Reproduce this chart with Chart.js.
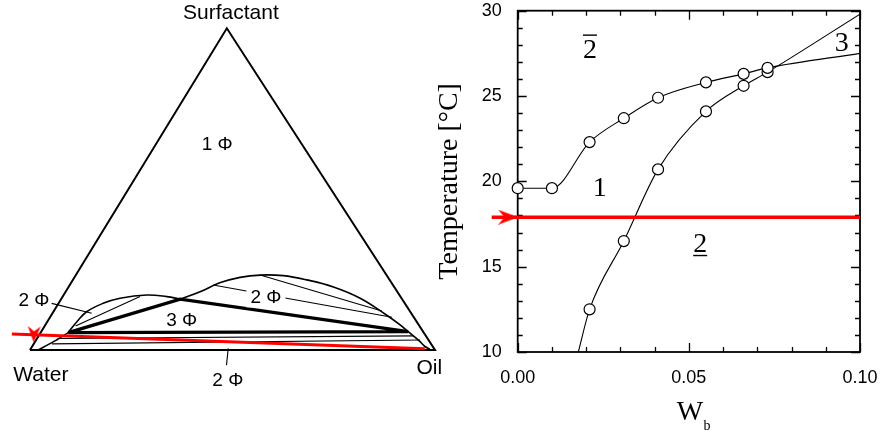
<!DOCTYPE html>
<html>
<head>
<meta charset="utf-8">
<script src="https://cdn.jsdelivr.net/npm/chart.js@4.4.0/dist/chart.umd.min.js"></script>
<style>
  html, body { margin: 0; padding: 0; background: #fff; }
  body { width: 881px; height: 435px; position: relative; overflow: hidden; }
  #ternaryBox { position: absolute; left: 0; top: 0; width: 450px; height: 435px; }
  #phaseBox { position: absolute; left: 430px; top: 0; width: 451px; height: 435px; }
  canvas { display: block; }
</style>
</head>
<body>
<div id="ternaryBox"><canvas id="ternary" width="450" height="435"></canvas></div>
<div id="phaseBox"><canvas id="phase" width="451" height="435"></canvas></div>
<script>
// ---------- ternary phase diagram (wt%: [oil, surfactant], water is the balance) ----------
const cornerLabels = ['Water', 'Oil', 'Surfactant'];
const cornerLabelAt = [[7.3, -9.5], [102.3, -7.6], [-0.4, 102.9]];
const triangleEdges = [[0, 0], [100, 0], [0, 100], [0, 0]];
const threePhaseCorners = [[6.8, 5.4], [29.4, 15.8], [90.6, 5.7], [6.8, 5.4]];
const leftBinodal = [[6.8, 5.4], [7.3, 8.8], [8.2, 11.9], [11.0, 14.5], [14.4, 16.1], [20.5, 17.1], [25.7, 16.6], [29.4, 15.8]];
const rightBinodal = [[29.4, 15.8], [33.2, 18.1], [36.7, 20.9], [40.9, 22.6], [45.5, 23.3], [51.3, 23.1], [57.7, 21.8],
                      [65.4, 19.6], [73.7, 16.1], [82.2, 11.2], [87.6, 7.8], [90.6, 5.7], [94.4, 3.1], [97.0, 1.1], [98.6, 0.3]];
const lowerBinodal = [[2.0, 0], [4.5, 2.5], [6.8, 5.4]];
const tieLines = [
  [[7.6, 7.5], [19.1, 16.6]],
  [[45.5, 23.3], [81.0, 12.1]],
  [[35.4, 20.2], [84.4, 10.2]],
  [[5.5, 3.6], [92.5, 4.4]],
  [[4.5, 1.9], [94.8, 3.1]]
];
const leaderLines = [[[-1.7, 14.5], [9.7, 11.4]], [[48.7, 0.5], [50.8, -4.7]]];
const phaseLabels = ['1 Φ', '2 Φ', '3 Φ', '2 Φ', '2 Φ'];
const phaseLabelAt = [[16.0, 62.2], [-5.7, 13.7], [33.8, 7.5], [51.2, 14.5], [54.3, -11.2]];
const phaseLabelMasked = [false, false, false, true, false];
const dilutionPath = [[-6.9, 5.0], [97.3, 0.4]];
const dilutionArrowAt = [-1.4, 4.9];

// ---------- temperature / W_b phase boundaries ----------
const wbUpper = [0.000, 0.010, 0.021, 0.031, 0.041, 0.055, 0.066, 0.073];
const tUpper  = [19.6, 19.6, 22.3, 23.7, 24.9, 25.8, 26.3, 26.65];
const wbLower = [0.021, 0.031, 0.041, 0.055, 0.066, 0.073];
const tLower  = [12.5, 16.5, 20.7, 24.1, 25.6, 26.4];
const upperBranchEnd = [0.100, 27.5];
const lowerBranchStart = [0.0177, 10.0];
const lowerBranchEnd = [0.100, 29.8];
const pathTemperature = 17.9;
const pathStartWb = -0.0076;
const pathArrowWb = -0.0028;
const regionLabels = ['2', '1', '2', '3'];
const regionMarks = ['over', '', 'under', ''];
const regionLabelAt = [[0.0211, 27.66], [0.024, 19.55], [0.0533, 16.28], [0.0947, 28.09]];
const tempTitle = 'Temperature [°C]';
const wbTitle = ['W', 'b'];

// ---------- helpers ----------
const SKEW = 0.486;                       // horizontal offset of the surfactant apex
const toXY = ([o, s]) => ({ x: o + SKEW * s, y: s });
const RED = '#ff0000';
const SANS = '"Liberation Sans", Arial, sans-serif';
const SERIF = '"Liberation Serif", "Times New Roman", serif';

function dart(w, h, color) {
  const c = document.createElement('canvas');
  c.width = w; c.height = h;
  const g = c.getContext('2d');
  g.fillStyle = color;
  g.beginPath();
  g.moveTo(w, h / 2); g.lineTo(0, 0); g.lineTo(w * 0.32, h / 2); g.lineTo(0, h);
  g.closePath(); g.fill();
  return c;
}

function pathSet(points, width, extra) {
  return Object.assign({
    data: points.map(toXY), showLine: true, borderColor: '#000', borderWidth: width,
    pointRadius: 0, tension: 0, fill: false, clip: false, borderJoinStyle: 'miter', borderCapStyle: 'butt'
  }, extra || {});
}

// ---------- ternary chart ----------
const ternaryDatasets = [
  pathSet(dilutionPath, 3, { borderColor: RED, order: 0 }),
  { data: [toXY(dilutionArrowAt)], showLine: false, pointStyle: dart(16, 13, RED), pointRadius: 8,
    rotation: 92, clip: false, order: 0 },
  pathSet(triangleEdges, 2, { order: 5 }),
  pathSet(threePhaseCorners, 3.4, { order: 2 }),
  pathSet(leftBinodal, 1.6, { tension: 0.4, order: 3 }),
  pathSet(rightBinodal, 1.7, { tension: 0.4, order: 3 }),
  pathSet(lowerBinodal, 1.5, { tension: 0.3, order: 3 })
];
tieLines.forEach(t => ternaryDatasets.push(pathSet(t, 1.1, { order: 4 })));
leaderLines.forEach(t => ternaryDatasets.push(pathSet(t, 1.1, { order: 4 })));

const ternaryText = {
  id: 'ternaryText',
  afterDraw(chart) {
    const { ctx, scales: { x, y } } = chart;
    const px = p => { const q = toXY(p); return [x.getPixelForValue(q.x), y.getPixelForValue(q.y)]; };
    ctx.save();
    ctx.fillStyle = '#000';
    ctx.textAlign = 'center';
    ctx.textBaseline = 'alphabetic';
    ctx.font = '21px ' + SANS;
    cornerLabels.forEach((t, i) => { const [a, b] = px(cornerLabelAt[i]); ctx.fillText(t, a, b); });
    ctx.font = '19px ' + SANS;
    phaseLabels.forEach((t, i) => {
      const [a, b] = px(phaseLabelAt[i]);
      if (phaseLabelMasked[i]) {
        const w = ctx.measureText(t).width + 8;
        ctx.fillStyle = '#fff';
        ctx.fillRect(a - w / 2, b - 16, w, 20);
        ctx.fillStyle = '#000';
      }
      ctx.fillText(t, a, b);
    });
    ctx.restore();
  }
};

new Chart(document.getElementById('ternary'), {
  type: 'scatter',
  data: { datasets: ternaryDatasets },
  options: {
    responsive: false, animation: false, events: [],
    layout: { padding: 0, autoPadding: false },
    plugins: { legend: { display: false }, tooltip: { enabled: false } },
    scales: {
      x: { type: 'linear', display: false, min: -7.407, max: 103.704 },
      y: { type: 'linear', display: false, min: -26.42, max: 108.80 }
    }
  },
  plugins: [ternaryText]
});

// ---------- temperature chart ----------
const pts = (xs, ys) => xs.map((v, i) => ({ x: v, y: ys[i] }));
const upperCurve = [...pts(wbUpper, tUpper), { x: upperBranchEnd[0], y: upperBranchEnd[1] }];
const lowerCurve = [{ x: lowerBranchStart[0], y: lowerBranchStart[1] }, ...pts(wbLower, tLower),
                    { x: lowerBranchEnd[0], y: lowerBranchEnd[1] }];

// keep tick labels from pushing the plot box inward
const noOverflow = s => { s.paddingTop = 0; s.paddingBottom = 0; s.paddingLeft = 0; s.paddingRight = 0; };

const frameAndTicks = {
  id: 'frameAndTicks',
  beforeDatasetsDraw(chart) {
    const { ctx, chartArea: a, scales: { x, y } } = chart;
    ctx.save();
    ctx.strokeStyle = '#000';
    ctx.lineWidth = 1.3;
    ctx.beginPath();
    for (let k = 0; k <= 10; k++) {
      const p = Math.round(x.getPixelForValue(k / 100)) + 0.5;
      const len = k % 5 === 0 ? 9 : 5;
      ctx.moveTo(p, a.bottom); ctx.lineTo(p, a.bottom - len);
      ctx.moveTo(p, a.top); ctx.lineTo(p, a.top + len);
    }
    for (let t = 10; t <= 30; t++) {
      const p = Math.round(y.getPixelForValue(t)) + 0.5;
      const len = t % 5 === 0 ? 9 : 5;
      ctx.moveTo(a.left, p); ctx.lineTo(a.left + len, p);
      ctx.moveTo(a.right, p); ctx.lineTo(a.right - len, p);
    }
    ctx.stroke();
    ctx.lineWidth = 1.8;
    ctx.strokeRect(a.left, a.top, a.right - a.left, a.bottom - a.top);
    ctx.restore();
  },
  afterDraw(chart) {
    const { ctx, chartArea: a, scales: { x, y } } = chart;
    ctx.save();
    ctx.fillStyle = '#000';
    ctx.strokeStyle = '#000';
    ctx.font = '28px ' + SERIF;
    ctx.textAlign = 'center';
    ctx.textBaseline = 'middle';
    regionLabels.forEach((t, i) => {
      const cx = x.getPixelForValue(regionLabelAt[i][0]);
      const cy = y.getPixelForValue(regionLabelAt[i][1]);
      ctx.fillText(t, cx, cy);
      const w = ctx.measureText(t).width;
      if (regionMarks[i]) {
        const ly = regionMarks[i] === 'over' ? cy - 15.5 : cy + 10.7;
        ctx.lineWidth = 1.4;
        ctx.beginPath(); ctx.moveTo(cx - w / 2, ly); ctx.lineTo(cx + w / 2, ly); ctx.stroke();
      }
    });
    // axis titles
    ctx.save();
    ctx.translate(26.8, (a.top + a.bottom) / 2);
    ctx.rotate(-Math.PI / 2);
    ctx.textBaseline = 'alphabetic';
    ctx.fillText(tempTitle, 0, 0);
    ctx.restore();
    const cx = (a.left + a.right) / 2 + 1;
    ctx.textBaseline = 'alphabetic';
    ctx.textAlign = 'center';
    ctx.fillText(wbTitle[0], cx, 420);
    const ww = ctx.measureText(wbTitle[0]).width;
    ctx.font = '14px ' + SERIF;
    ctx.textAlign = 'left';
    ctx.fillText(wbTitle[1], cx + ww / 2 + 0.5, 430);
    ctx.restore();
  }
};

new Chart(document.getElementById('phase'), {
  type: 'scatter',
  data: {
    datasets: [
      { data: pts(wbUpper, tUpper), pointRadius: 5.5, pointBorderWidth: 1.2, pointBorderColor: '#000',
        pointBackgroundColor: '#fff', showLine: false, clip: false, order: 0 },
      { data: pts(wbLower, tLower), pointRadius: 5.5, pointBorderWidth: 1.2, pointBorderColor: '#000',
        pointBackgroundColor: '#fff', showLine: false, clip: false, order: 0 },
      { data: [{ x: pathStartWb, y: pathTemperature }, { x: 0.100, y: pathTemperature }], showLine: true,
        borderColor: RED, borderWidth: 3.5, pointRadius: 0, clip: false, order: 1 },
      { data: [{ x: pathArrowWb, y: pathTemperature }], showLine: false, pointStyle: dart(20, 15, RED),
        pointRadius: 14, clip: false, order: 1 },
      { data: upperCurve, showLine: true, borderColor: '#000', borderWidth: 1.1, pointRadius: 0,
        cubicInterpolationMode: 'monotone', order: 2 },
      { data: lowerCurve, showLine: true, borderColor: '#000', borderWidth: 1.1, pointRadius: 0,
        cubicInterpolationMode: 'monotone', order: 2 }
    ]
  },
  options: {
    responsive: false, animation: false, events: [],
    layout: { padding: { top: 10.7, right: 21, left: 0, bottom: 0 }, autoPadding: false },
    plugins: { legend: { display: false }, tooltip: { enabled: false } },
    scales: {
      x: {
        type: 'linear', min: 0, max: 0.1,
        grid: { display: false }, border: { display: false },
        afterFit: s => { s.height = 83; noOverflow(s); },
        ticks: { stepSize: 0.05, padding: 7, color: '#000', font: { family: SANS, size: 18 },
                 callback: v => Number(v).toFixed(2), maxRotation: 0 }
      },
      y: {
        type: 'linear', min: 10, max: 30,
        grid: { display: false }, border: { display: false },
        afterFit: s => { s.width = 87.7; noOverflow(s); },
        ticks: { stepSize: 5, padding: 8, color: '#000', font: { family: SANS, size: 18 } }
      }
    }
  },
  plugins: [frameAndTicks]
});
</script>
</body>
</html>
